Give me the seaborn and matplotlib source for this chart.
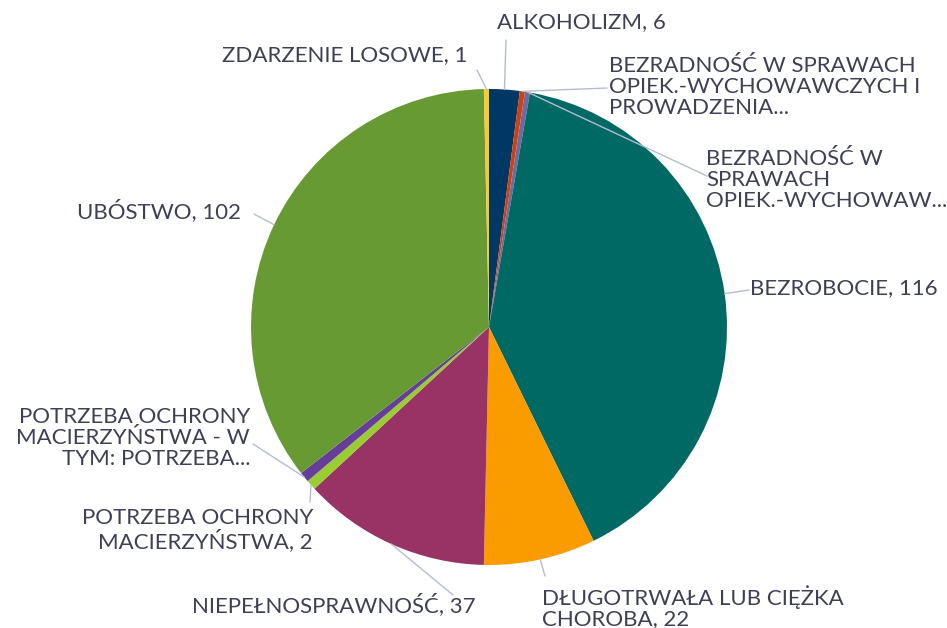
import numpy as np
import matplotlib
matplotlib.use("Agg")
import matplotlib.pyplot as plt
import seaborn as sns

# dane
categories = [
    "ALKOHOLIZM",
    "BEZRADNOŚĆ W SPRAWACH OPIEK.-WYCHOWAWCZYCH I PROWADZENIA",
    "BEZRADNOŚĆ W SPRAWACH OPIEK.-WYCHOWAWCZYCH",
    "BEZROBOCIE",
    "DŁUGOTRWAŁA LUB CIĘŻKA CHOROBA",
    "NIEPEŁNOSPRAWNOŚĆ",
    "POTRZEBA OCHRONY MACIERZYŃSTWA",
    "POTRZEBA OCHRONY MACIERZYŃSTWA - W TYM: POTRZEBA",
    "UBÓSTWO",
    "ZDARZENIE LOSOWE",
]
values = [6, 1, 1, 116, 22, 37, 2, 2, 102, 1]
labels = [
    "ALKOHOLIZM, 6",
    "BEZRADNOŚĆ W SPRAWACH\nOPIEK.-WYCHOWAWCZYCH I\nPROWADZENIA...",
    "BEZRADNOŚĆ W\nSPRAWACH\nOPIEK.-WYCHOWAW...",
    "BEZROBOCIE, 116",
    "DŁUGOTRWAŁA LUB CIĘŻKA\nCHOROBA, 22",
    "NIEPEŁNOSPRAWNOŚĆ, 37",
    "POTRZEBA OCHRONY\nMACIERZYŃSTWA, 2",
    "POTRZEBA OCHRONY\nMACIERZYŃSTWA - W\nTYM: POTRZEBA...",
    "UBÓSTWO, 102",
    "ZDARZENIE LOSOWE, 1",
]
colors = ["#003865", "#d0400c", "#6f6aa0", "#006964", "#fa9b00",
          "#993366", "#9acd32", "#663e99", "#689a34", "#fdc82f"]

# pozycje etykiet (piksele obrazu: x, y od góry), wyrównanie, koniec linii
label_pos = [
    (497, 22, "left", (506, 40)),
    (609, 87, "left", (607, 88)),
    (706, 180, "left", (707, 176)),
    (750, 288, "left", (749, 290)),
    (542, 607, "left", (545, 576)),
    (476, 605, "right", (453, 595)),
    (313, 530, "right", (310, 502)),
    (250, 438, "right", (253, 444)),
    (241, 211, "right", (254, 214)),
    (467, 55, "right", (477, 70)),
]

sns.set_theme(style="white")
plt.rcParams["font.family"] = ["Lato", "DejaVu Sans"]

W, H = 947, 628
fig = plt.figure(figsize=(W / 100, H / 100), dpi=100)
cx, cy, r = 489, 327, 238
ax = fig.add_axes([(cx - r) / W, (H - cy - r) / H, 2 * r / W, 2 * r / H])

wedges, _ = ax.pie(values, colors=colors, startangle=90, counterclock=False,
                   radius=1, wedgeprops=dict(linewidth=0))
ax.set_xlim(-1, 1)
ax.set_ylim(-1, 1)
ax.set_axis_off()

txt_color = "#3f4055"
line_color = "#b4bdd0"
for w, lab, (tx, ty, ha, (lx, ly)) in zip(wedges, labels, label_pos):
    ang = np.deg2rad((w.theta1 + w.theta2) / 2)
    x0, y0 = np.cos(ang), np.sin(ang)
    # koniec linii w jednostkach danych
    x1 = (lx - cx) / r
    y1 = (cy - ly) / r
    ax.plot([x0, x1], [y0, y1], color=line_color, lw=1, clip_on=False)
    fig.text(tx / W, 1 - ty / H, lab, ha=ha, va="center", fontsize=16,
             color=txt_color, linespacing=1.05,
             multialignment="right" if ha == "right" else "left")

fig.savefig("out.png", dpi=100)
